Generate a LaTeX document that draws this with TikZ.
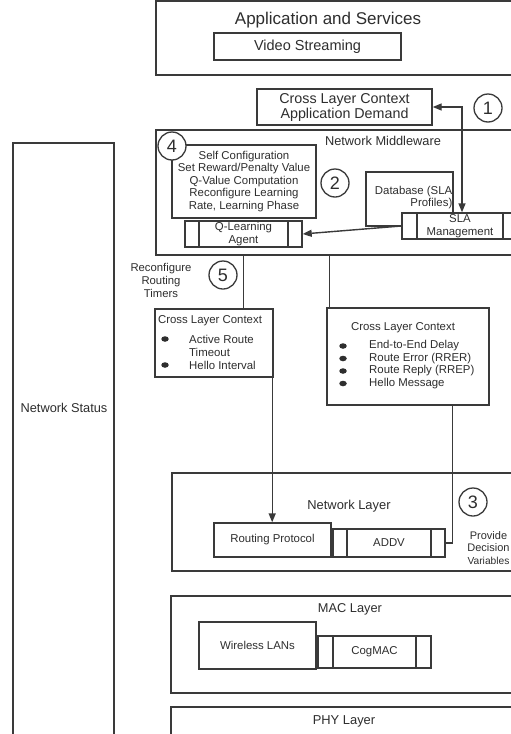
\documentclass[tikz,border=0pt]{standalone}
\usepackage{fontspec}
\setmainfont{Liberation Sans}
\usetikzlibrary{arrows.meta,shapes.geometric}
\definecolor{ln}{HTML}{3A3A3A}
\definecolor{tx}{HTML}{2E2E2E}
\tikzset{
  box/.style={draw=ln, line width=1.4pt, fill=white, inner sep=0pt, text=tx},
  dbox/.style={box, path picture={
      \draw[ln, line width=1.4pt] ([xshift=#1]path picture bounding box.north west) -- ([xshift=#1]path picture bounding box.south west);
      \draw[ln, line width=1.4pt] ([xshift=-#1]path picture bounding box.north east) -- ([xshift=-#1]path picture bounding box.south east);}},
  num/.style={circle, draw=ln, line width=1.3pt, fill=white, minimum size=28pt, inner sep=0pt, text=tx, font=\fontsize{18}{18}\selectfont},
  lbl/.style={text=tx, inner sep=0pt, align=center},
  conn/.style={draw=ln, line width=1.4pt},
  tip/.style={Triangle[length=9pt,width=7pt]},
  arr/.style={conn, -{Triangle[length=9pt,width=7pt]}},
  bul/.style={ellipse, fill=tx, minimum width=7.5pt, minimum height=5.5pt, inner sep=0pt},
  ft/.style={font=\fontsize{11.4}{13}\selectfont},
}
\begin{document}
\begin{tikzpicture}[x=1pt,y=-1pt]
\useasboundingbox (0,0) rectangle (511,734);
\clip (0,0) rectangle (511,734);
\fill[white] (0,0) rectangle (511,734);

% Application and services
\node[box, minimum width=374, minimum height=74] (app) at (343,38) {};
\node[lbl, font=\fontsize{17}{17}\selectfont] (apptitle) at (328,20) {Application and Services};
\node[box, minimum width=187, minimum height=27, font=\fontsize{14.5}{14.5}\selectfont] (video) at (307.5,46.5) {Video Streaming};

% Cross layer context application demand
\node[box, minimum width=175, minimum height=36, align=center, font=\fontsize{14.3}{15}\selectfont] (clcapp) at (344.5,107) {Cross Layer Context\\Application Demand};
\node[num] (n1) at (488,108) {1};

% Network middleware
\node[box, minimum width=374, minimum height=125] (mw) at (343,192.5) {};
\node[lbl, font=\fontsize{12.8}{12.8}\selectfont] (mwtitle) at (383,141) {Network Middleware};
\node[box, minimum width=144, minimum height=73, align=center, font=\fontsize{11.4}{12.5}\selectfont] (self) at (244,181.5) {Self Configuration\\Set Reward/Penalty Value\\Q-Value Computation\\Reconfigure Learning\\Rate, Learning Phase};
\node[num] (n4) at (172,146) {4};
\node[num] (n2) at (335,183) {2};
\node[dbox=14pt, minimum width=117, minimum height=26, align=center, font=\fontsize{11.4}{12.5}\selectfont] (qagent) at (243.5,234) {Q-Learning\\Agent};
\node[box, minimum width=87, minimum height=54] (db) at (409.5,199) {};
\node[lbl, anchor=east, align=right, font=\fontsize{11.4}{11.6}\selectfont] (dbtext) at (452.5,197.5) {Database (SLA\\Profiles)};
\node[dbox=15pt, minimum width=116, minimum height=26, align=center, font=\fontsize{11.4}{12.5}\selectfont] (sla) at (460,226) {SLA\\Management};

\draw[conn, {Triangle[length=9pt,width=7pt]}-{Triangle[length=9pt,width=7pt]}] (clcapp.east) -| ([xshift=2pt]sla.north);
\draw[arr] (sla.west) -- (qagent.east);

% reconfigure routing timers
\node[lbl, font=\fontsize{11.3}{13}\selectfont] (rrt) at (161,280) {Reconfigure\\Routing\\Timers};
\node[num] (n5) at (223,275) {5};

% Cross layer context 1
\node[box, minimum width=118, minimum height=68] (clc1) at (214,343) {};
\node[lbl, ft] (clc1t) at (210,321) {Cross Layer Context};
\node[bul] (b11) at (165,339) {};
\node[bul] (b12) at (165,365) {};
\node[lbl, ft, anchor=west, align=left] (clc1a) at (189,345.5) {Active Route\\Timeout};
\node[lbl, ft, anchor=west] (clc1b) at (189,365) {Hello Interval};

% Cross layer context 2
\node[box, minimum width=162, minimum height=97] (clc2) at (408,356.5) {};
\node[lbl, ft] (clc2t) at (403,328) {Cross Layer Context};
\node[bul] (b21) at (343,346) {};
\node[bul] (b22) at (343,358.5) {};
\node[bul] (b23) at (343,371) {};
\node[bul] (b24) at (343,383.5) {};
\node[lbl, ft, anchor=west] (clc2a) at (369,346) {End-to-End Delay};
\node[lbl, ft, anchor=west] (clc2b) at (369,358.5) {Route Error (RRER)};
\node[lbl, ft, anchor=west] (clc2c) at (369,371) {Route Reply (RREP)};
\node[lbl, ft, anchor=west] (clc2d) at (369,383.5) {Hello Message};

\draw[conn] (mw.south -| qagent.south) -- (clc1.north -| qagent.south);
\draw[conn] ([xshift=3pt]clc2.north west) -- ([xshift=3pt]clc2.north west |- mw.south);

% Network layer
\node[box, minimum width=358, minimum height=98] (nl) at (351,522) {};
\node[lbl, font=\fontsize{12.9}{12.9}\selectfont] (nltitle) at (349,506) {Network Layer};
\node[box, minimum width=117, minimum height=34, ft] (rp) at (272.5,540) {Routing Protocol};
\node[dbox=14pt, minimum width=112, minimum height=28, ft] (addv) at (389,543) {ADDV};
\node[num] (n3) at (473,502) {3};
\node[lbl, font=\fontsize{11}{12.5}\selectfont] (prov) at (488.5,548) {Provide\\Decision\\{\fontsize{10.2}{12.5}\selectfont Variables}};

\draw[arr] ([xshift=-1.5pt]clc1.south east) -- ([xshift=-1.5pt]clc1.south east |- rp.north);
\draw[conn] ([xshift=-37pt]clc2.south east) |- (addv.east);

% MAC layer
\node[box, minimum width=359, minimum height=97] (mac) at (350.5,644.5) {};
\node[lbl, font=\fontsize{12.8}{12.8}\selectfont] (mactitle) at (350,609) {MAC Layer};
\node[box, minimum width=117, minimum height=47, ft] (wlan) at (257.5,645.5) {Wireless LANs};
\node[dbox=15pt, minimum width=113, minimum height=32, ft] (cogmac) at (374.5,652) {CogMAC};

% PHY layer
\node[box, minimum width=359, minimum height=53] (phy) at (350.5,733.5) {};
\node[lbl, font=\fontsize{12.9}{12.9}\selectfont] (phytitle) at (344,721) {PHY Layer};

% Network status
\node[box, minimum width=101, minimum height=617] (ns) at (63.5,451.5) {};
\node[lbl, font=\fontsize{12.8}{12.8}\selectfont] (nstext) at (64,408) {Network Status};
\end{tikzpicture}
\end{document}
